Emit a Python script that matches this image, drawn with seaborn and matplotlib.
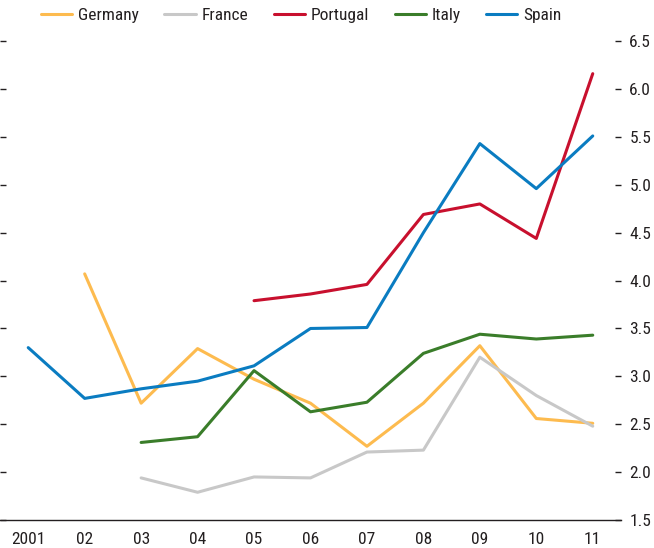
import matplotlib
matplotlib.use("Agg")
import matplotlib.pyplot as plt
import seaborn as sns
import numpy as np
import pandas as pd

# 数据
years = ["2001", "02", "03", "04", "05", "06", "07", "08", "09", "10", "11"]
germany = [None, 4.07, 2.72, 3.29, 2.97, 2.72, 2.27, 2.72, 3.32, 2.56, 2.51]
france = [None, None, 1.94, 1.79, 1.95, 1.94, 2.21, 2.23, 3.20, 2.80, 2.48]
portugal = [None, None, None, None, 3.79, 3.86, 3.96, 4.69, 4.80, 4.44, 6.16]
italy = [None, None, 2.31, 2.37, 3.06, 2.63, 2.73, 3.24, 3.44, 3.39, 3.43]
spain = [3.30, 2.77, 2.87, 2.95, 3.11, 3.50, 3.51, 4.50, 5.43, 4.96, 5.51]

countries = ["Germany", "France", "Portugal", "Italy", "Spain"]
colors = ["#FDBB4F", "#C8C8C8", "#C8102E", "#3A7D2A", "#0A7CC1"]
y_ticks = [1.5, 2.0, 2.5, 3.0, 3.5, 4.0, 4.5, 5.0, 5.5, 6.0, 6.5]

series = dict(zip(countries, [germany, france, portugal, italy, spain]))
rows = []
for name, vals in series.items():
    for i, v in enumerate(vals):
        if v is not None:
            rows.append({"pos": i, "value": v, "country": name})
df = pd.DataFrame(rows)

sns.set_style("white")
plt.rcParams["font.family"] = ["Roboto Condensed", "DejaVu Sans"]
text_color = "#231F20"

fig = plt.figure(figsize=(6.54, 5.48), dpi=100)
ax = fig.add_axes([0.0, 0.051, 0.9495, 0.874])

sns.lineplot(data=df, x="pos", y="value", hue="country", hue_order=countries,
             palette=colors, linewidth=2.2, ax=ax, legend=True)

ax.set_xlim(-0.5, len(years) - 0.5)
ax.set_ylim(1.5, 6.5)
ax.set_xlabel("")
ax.set_ylabel("")

for s in ["top", "left", "right"]:
    ax.spines[s].set_visible(False)
ax.spines["bottom"].set_color(text_color)
ax.spines["bottom"].set_linewidth(1.0)

# x 轴：标签在中间，刻度在分界处
ax.set_xticks(range(len(years)))
ax.set_xticklabels(years)
ax.set_xticks(np.arange(-0.5, len(years)), minor=True)
ax.tick_params(axis="x", which="major", length=0, pad=8.5, labelsize=12.5, labelcolor=text_color)
ax.tick_params(axis="x", which="minor", direction="in", length=6, width=1.0, color=text_color)

# y 轴：左右都有刻度，只有右侧有标签
ax.set_yticks(y_ticks)
ax.set_yticklabels([f"{t:.1f}" for t in y_ticks])
ax.tick_params(axis="y", which="major", direction="in", length=4.5, width=1.0, color=text_color,
               left=True, right=True, labelleft=False, labelright=True,
               labelsize=12.5, labelcolor=text_color, pad=6)

handles, labels = ax.get_legend_handles_labels()
ax.get_legend().remove()
fig.legend(handles, labels, loc="center left", bbox_to_anchor=(41 / 654, 1 - 15 / 548),
           ncol=5, frameon=False, fontsize=12.5, handlelength=1.8, handletextpad=0.35,
           columnspacing=1.45, borderaxespad=0, borderpad=0, labelcolor=text_color)

fig.savefig("out.png", dpi=100)
